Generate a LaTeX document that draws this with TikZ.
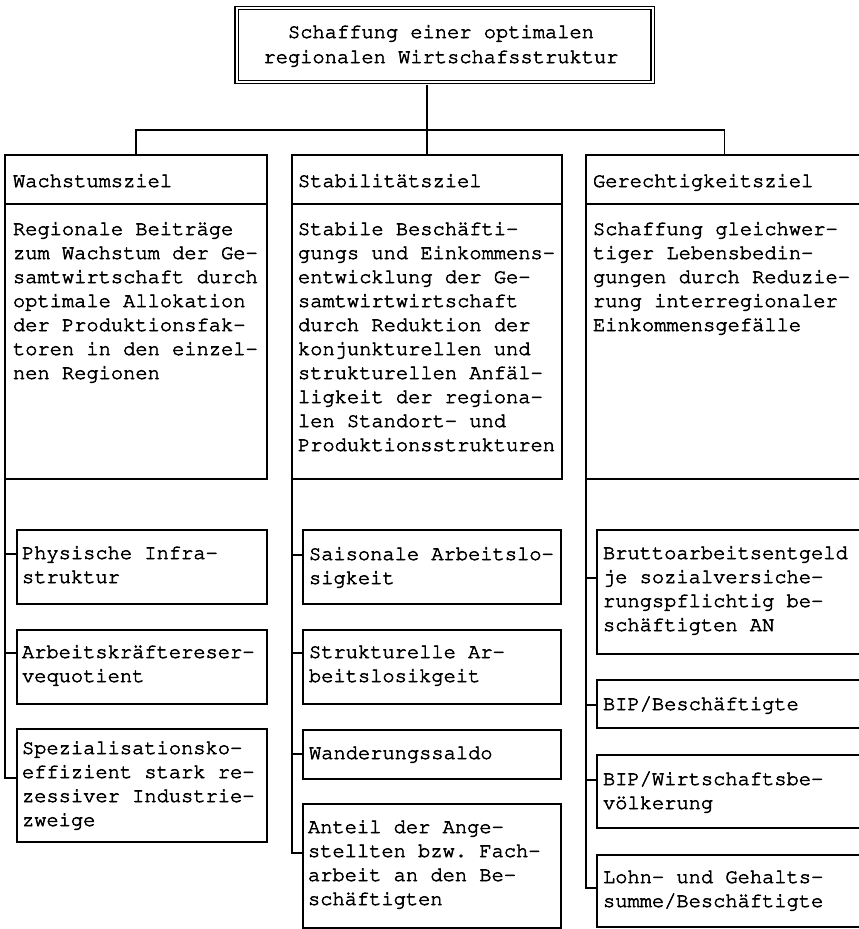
\documentclass[tikz,border=0pt]{standalone}
\usepackage[T1]{fontenc}
\usetikzlibrary{calc}
\frenchspacing
\newcommand\cour{\fontencoding{T1}\fontfamily{pcr}\fontseries{m}\fontshape{n}}
\newcommand\heavy{\special{pdf:literal direct 2 Tr 0.55 w}}
\newcommand\ml[1]{\vtop{\lineskiplimit=-100pt\halign{##\hfil\cr#1\crcr}}}
\newcommand\mlc[1]{\vtop{\lineskiplimit=-100pt\halign{\hfil##\hfil\cr#1\crcr}}}
\tikzset{
  box/.style={draw, line width=1.1pt, inner sep=0pt, outer sep=0pt, anchor=north west},
  dbox/.style={draw, line width=1.1pt, double=white, double distance=2.2pt, inner sep=0pt, outer sep=2.6pt, anchor=north west},
  txt/.style={inner sep=0pt, outer sep=0pt, anchor=base west, font=\cour\fontsize{20.4}{24}\selectfont\heavy},
  ctxt/.style={inner sep=0pt, outer sep=0pt, anchor=base, font=\cour\fontsize{20.4}{25}\selectfont\heavy},
  conn/.style={line width=1.1pt},
}
\begin{document}
\begin{tikzpicture}[x=1pt,y=-1pt]
\useasboundingbox (0,0) rectangle (859,929);
% top box
\node[dbox, minimum width=416pt, minimum height=74pt] (top) at (234,5.5) {};
\node[ctxt] (toptxt) at (441,38) {\mlc{Schaffung einer optimalen\cr regionalen Wirtschafsstruktur}};
% column headers
\node[box, minimum width=262pt, minimum height=49pt] (h1) at (5,155) {};
\node[box, minimum width=270pt, minimum height=49pt] (h2) at (292,155) {};
\node[box, minimum width=277pt, minimum height=49pt] (h3) at (586,155) {};
\node[txt] (h1t) at (13,187) {Wachstumsziel};
\node[txt] (h2t) at (298,187) {Stabilitätsziel};
\node[txt] (h3t) at (593,187) {Gerechtigkeitsziel};
% column bodies
\node[box, minimum width=262pt, minimum height=275pt] (b1) at (5,204) {};
\node[box, minimum width=270pt, minimum height=275pt] (b2) at (292,204) {};
\node[box, minimum width=277pt, minimum height=275pt] (b3) at (586,204) {};
\node[txt] (b1t) at (13,235) {\ml{Regionale Beiträge\cr zum Wachstum der Ge-\cr samtwirtschaft durch\cr optimale Allokation\cr der Produktionsfak-\cr toren in den einzel-\cr nen Regionen}};
\node[txt] (b2t) at (298,235) {\ml{Stabile Beschäfti-\cr gungs und Einkommens-\cr entwicklung der Ge-\cr samtwirtwirtschaft\cr durch Reduktion der\cr konjunkturellen und\cr strukturellen Anfäl-\cr ligkeit der regiona-\cr len Standort- und\cr Produktionsstrukturen}};
\node[txt] (b3t) at (593,235) {\ml{Schaffung gleichwer-\cr tiger Lebensbedin-\cr gungen durch Reduzie-\cr rung interregionaler\cr Einkommensgefälle}};
% left children
\node[box, minimum width=250pt, minimum height=74pt] (l1) at (17,530) {};
\node[box, minimum width=250pt, minimum height=74pt] (l2) at (17,630) {};
\node[box, minimum width=250pt, minimum height=113pt] (l3) at (17,729) {};
\node[txt] (l1t) at (22,559) {\ml{Physische Infra-\cr struktur}};
\node[txt] (l2t) at (22,658) {\ml{Arbeitskräftereser-\cr vequotient}};
\node[txt] (l3t) at (22,754) {\ml{Spezialisationsko-\cr effizient stark re-\cr zessiver Industrie-\cr zweige}};
% middle children
\node[box, minimum width=258pt, minimum height=74pt] (m1) at (303,530) {};
\node[box, minimum width=258pt, minimum height=74pt] (m2) at (303,630) {};
\node[box, minimum width=258pt, minimum height=49pt] (m3) at (303,730) {};
\node[box, minimum width=258pt, minimum height=124pt] (m4) at (303,804) {};
\node[txt] (m1t) at (309,560) {\ml{Saisonale Arbeitslo-\cr sigkeit}};
\node[txt] (m2t) at (309,658) {\ml{Strukturelle Ar-\cr beitslosikgeit}};
\node[txt] (m3t) at (309,759) {Wanderungssaldo};
\node[txt] (m4t) at (308,833) {\ml{Anteil der Ange-\cr stellten bzw. Fach-\cr arbeit an den Be-\cr schäftigten}};
% right children
\node[box, minimum width=266pt, minimum height=124pt] (r1) at (597,530) {};
\node[box, minimum width=266pt, minimum height=48pt] (r2) at (597,680) {};
\node[box, minimum width=266pt, minimum height=73pt] (r3) at (597,755) {};
\node[box, minimum width=266pt, minimum height=72pt] (r4) at (597,855) {};
\node[txt] (r1t) at (603,559) {\ml{Bruttoarbeitsentgeld\cr je sozialversiche-\cr rungspflichtig be-\cr schäftigten AN}};
\node[txt] (r2t) at (603,710) {BIP/Beschäftigte};
\node[txt] (r3t) at (603,785) {\ml{BIP/Wirtschaftsbe-\cr völkerung}};
\node[txt] (r4t) at (603,883) {\ml{Lohn- und Gehalts-\cr summe/Beschäftigte}};
% top connectors
\coordinate (bus) at (427,130);
\draw[conn] (top.south -| h2.north) -- (h2.north);
\draw[conn] (h1.north) -- (h1.north |- bus) -- (h3.north |- bus) -- (h3.north);
% tick coordinates
\coordinate (tl1) at ($(l1.north west)+(0,24)$);
\coordinate (tl2) at ($(l2.north west)+(0,23)$);
\coordinate (tl3) at ($(l3.north west)+(0,49)$);
\coordinate (tm1) at ($(m1.north west)+(0,25)$);
\coordinate (tm2) at ($(m2.north west)+(0,23)$);
\coordinate (tm3) at ($(m3.north west)+(0,24)$);
\coordinate (tm4) at ($(m4.north west)+(0,49)$);
\coordinate (tr1) at ($(r1.north west)+(0,48)$);
\coordinate (tr2) at ($(r2.north west)+(0,25)$);
\coordinate (tr3) at ($(r3.north west)+(0,25)$);
\coordinate (tr4) at ($(r4.north west)+(0,33)$);
% left column connectors
\draw[conn] (b1.south west) |- (tl3);
\draw[conn] (tl1) -- (b1.south west |- tl1);
\draw[conn] (tl2) -- (b1.south west |- tl2);
% middle column connectors
\draw[conn] (b2.south west) |- (tm4);
\draw[conn] (tm1) -- (b2.south west |- tm1);
\draw[conn] (tm2) -- (b2.south west |- tm2);
\draw[conn] (tm3) -- (b2.south west |- tm3);
% right column connectors
\draw[conn] (b3.south west) |- (tr4);
\draw[conn] (tr1) -- (b3.south west |- tr1);
\draw[conn] (tr2) -- (b3.south west |- tr2);
\draw[conn] (tr3) -- (b3.south west |- tr3);
\end{tikzpicture}
\end{document}
